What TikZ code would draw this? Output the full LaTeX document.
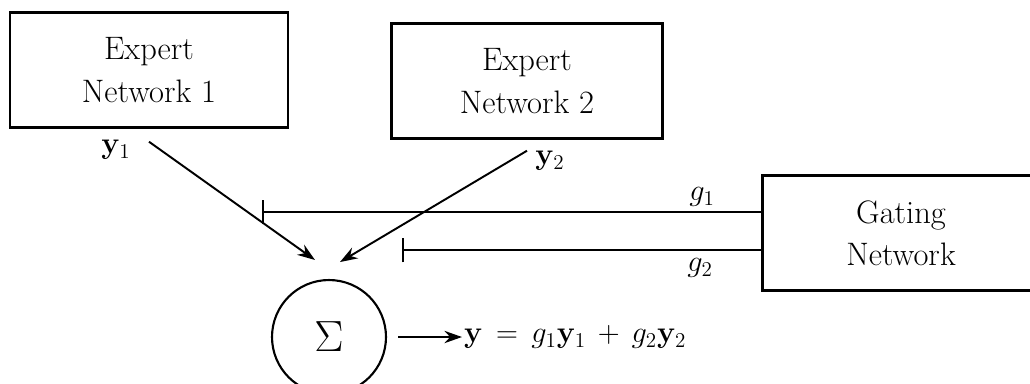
\documentclass[tikz,border=0pt]{standalone}
\usepackage{tikz}
\usetikzlibrary{arrows.meta}

\tikzset{
  netbox/.style={draw, line width=1.4pt, minimum height=2.3cm, align=center,
    font=\fontsize{18.5}{24}\selectfont},
  sumnode/.style={draw, circle, line width=1.2pt, minimum size=2.28cm,
    inner sep=0pt, font=\fontsize{24}{28}\selectfont},
  arr/.style={line width=1.1pt, -{Stealth[length=10pt, width=7pt]}},
  gateline/.style={line width=1.1pt, -{Bar[width=14pt, line width=1.1pt]}},
  lbl/.style={inner sep=1pt, font=\fontsize{18.5}{24}\selectfont}
}

\begin{document}
\begin{tikzpicture}[x=0.02cm, y=-0.02cm]
    \useasboundingbox (0,0) rectangle (1030,383);

    % networks
    \node[netbox, minimum width=5.56cm] (exp1) at (149,70) {Expert\\Network 1};
    \node[netbox, minimum width=5.42cm] (exp2) at (527,81) {Expert\\Network 2};
    \node[netbox, minimum width=5.54cm] (gate) at (901,233) {Gating\\Network};

    % summation and output
    \node[sumnode] (sum) at (329,337) {$\Sigma$};
    \node[lbl, anchor=west] (out) at (462,337)
      {$\mathbf{y} \,=\, g_1\mathbf{y}_1 \,+\, g_2\mathbf{y}_2$};

    % labels
    \node[lbl] (y1) at (116,150) {$\mathbf{y}_1$};
    \node[lbl] (y2) at (550,161) {$\mathbf{y}_2$};
    \node[lbl] (g1) at (702,197) {$g_1$};
    \node[lbl] (g2) at (700,268) {$g_2$};

    \coordinate (tip1) at (315,260);
    \coordinate (tip2) at (340,262);
    \coordinate (bar1) at (262,212);
    \coordinate (bar2) at (402,250);

    \draw[arr] ([yshift=-0.26cm]exp1.south) -- (tip1);
    \draw[arr] ([yshift=-0.22cm]exp2.south) -- (tip2);
    \draw[gateline] (gate.west |- bar1) -- (bar1);
    \draw[gateline] (gate.west |- bar2) -- (bar2);
    \draw[arr, shorten <=0.22cm] (sum) -- (out);
\end{tikzpicture}
\end{document}
